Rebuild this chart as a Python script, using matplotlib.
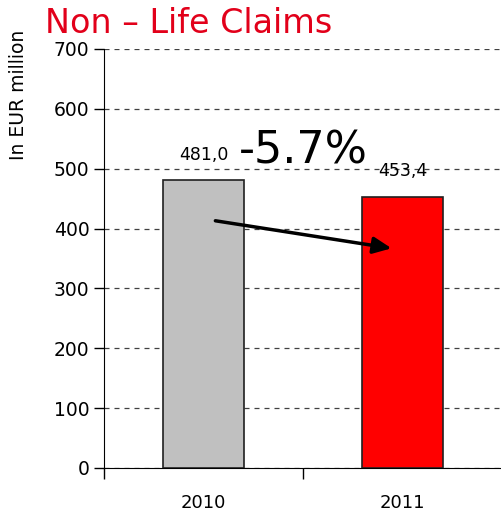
import matplotlib
matplotlib.use("Agg")
import matplotlib.pyplot as plt

# ------------------------------
# Data
# ------------------------------
years = ["2010", "2011"]
claims = [481.0, 453.4]
value_labels = ["481,0", "453,4"]
bar_colors = ["#c0c0c0", "#ff0000"]
change_label = "-5.7%"

# ------------------------------
# Plot
# ------------------------------
fig = plt.figure(figsize=(5.02, 5.15), dpi=100)
ax = fig.add_axes([0.207, 0.0913, 0.793, 0.8136])

x = range(len(years))
ax.bar(x, claims, width=0.41, color=bar_colors, edgecolor="#202020",
       linewidth=1.2, zorder=3)

for xi, val, lab in zip(x, claims, value_labels):
    ax.text(xi, val + 27, lab, ha="center", va="bottom", fontsize=12.5)

ax.text(0.5, 530, change_label, ha="center", va="center", fontsize=32)

ax.annotate("", xy=(0.945, 367), xytext=(0.06, 413),
            arrowprops=dict(arrowstyle="-|>,head_length=1.1,head_width=0.5",
                            color="black", lw=2.5, shrinkA=0, shrinkB=0),
            zorder=5)

ax.set_xlim(-0.5, 1.5)
ax.set_ylim(0, 700)
ax.set_yticks(range(0, 701, 100))
ax.set_xticks([-0.5, 0.5, 1.5], minor=False)
ax.set_xticklabels(["", "", ""])
ax.set_xticks(list(x), minor=True)
ax.set_xticklabels(years, minor=True)
ax.tick_params(axis="x", which="minor", length=0, pad=19, labelsize=13)
ax.tick_params(axis="x", which="major", length=8, direction="out", width=1)
ax.tick_params(axis="y", length=7, width=1, labelsize=13.5)

ax.yaxis.grid(True, linestyle=(0, (4, 4)), color="#404040", linewidth=0.9, zorder=0)
ax.set_axisbelow(True)
for side in ["top", "right"]:
    ax.spines[side].set_visible(False)

ax.set_ylabel("In EUR million", fontsize=13.5)
ax.yaxis.set_label_coords(-0.19, 0.89)

fig.text(0.09, 0.936, "Non \u2013 Life Claims", color="#e2001a", fontsize=24,
         ha="left", va="baseline")

plt.savefig("out.png", dpi=100)
